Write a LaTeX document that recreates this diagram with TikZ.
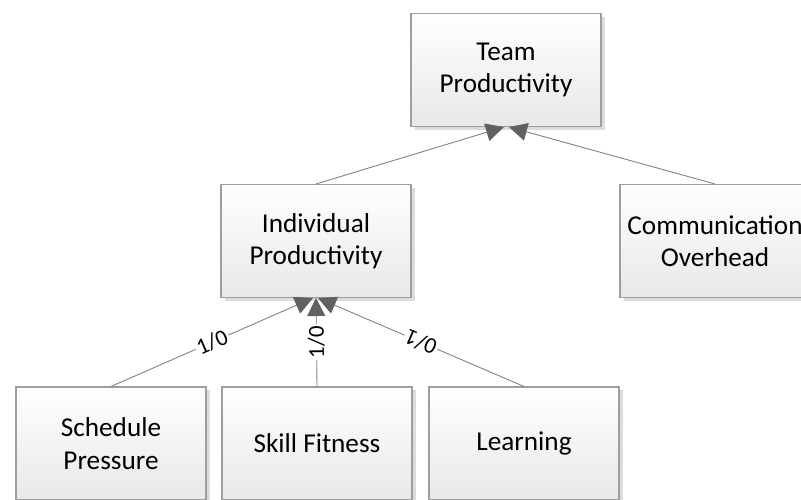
\documentclass[tikz,border=0pt]{standalone}
\usepackage{fontspec}
\setmainfont{Carlito}
\usetikzlibrary{arrows.meta,shadows}

\begin{document}
\begin{tikzpicture}
	\tikzset{factor/.style={draw=black!38,line width=0.6pt,top color=white,bottom color=black!9,
			minimum width=3.8cm,minimum height=2.26cm,align=center,
			font=\fontsize{15.5}{18.5}\selectfont,
			drop shadow={shadow xshift=0.07cm,shadow yshift=-0.07cm,fill=black!30,opacity=0.45}},
		link/.style={draw=black!50,line width=0.5pt,-{Triangle[length=0.36cm,width=0.36cm,color=black!62]}},
		weight/.style={fill=white,inner sep=1pt,font=\fontsize{13}{14}\selectfont,sloped,allow upside down}}
	\useasboundingbox (0,0) rectangle (16.02,-10);
	\clip (0,0) rectangle (16.02,-10);
	\node[factor] (team) at (10.12,-1.40) {Team\\Productivity};
	\node[factor] (ind) at (6.32,-4.82) {Individual\\Productivity};
	\node[factor] (comm) at (14.30,-4.82) {Communication\\Overhead};
	\node[factor] (sched) at (2.22,-8.87) {Schedule\\Pressure};
	\node[factor] (skill) at (6.34,-8.87) {Skill Fitness};
	\node[factor] (learn) at (10.48,-8.87) {Learning};
	\draw[link] (ind.north) -- ([xshift=-0.04cm]team.south);
	\draw[link] (comm.north) -- ([xshift=0.06cm]team.south);
	\draw[link] (sched.north) -- node[weight] {1/0} ([xshift=-0.06cm]ind.south);
	\draw[link] (skill.north) -- node[weight] {1/0} (ind.south);
	\draw[link] (learn.north) -- node[weight] {0/1} ([xshift=0.04cm]ind.south);
\end{tikzpicture}
\end{document}
